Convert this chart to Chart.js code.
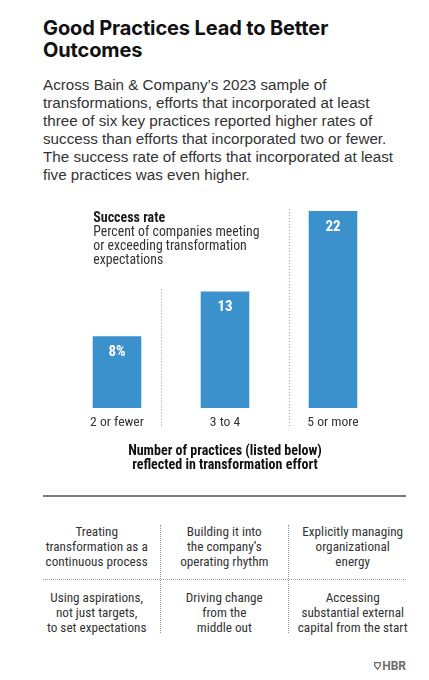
<!DOCTYPE html>
<html>
<head>
<meta charset="utf-8">
<script src="https://cdn.jsdelivr.net/npm/chart.js@4.4.1/dist/chart.umd.min.js"></script>
<style>
  html,body{margin:0;padding:0;background:#fff;}
  body{width:429px;height:680px;position:relative;overflow:hidden;}
  #title{position:absolute;left:43px;top:16.6px;width:380px;font-family:'Inter',sans-serif;font-weight:700;font-size:20px;line-height:22.5px;letter-spacing:-0.13px;color:#111;}
  #body{position:absolute;left:43px;top:76.4px;width:380px;font-family:'Liberation Sans',sans-serif;font-size:15.2px;line-height:18px;color:#333;}
  #chartWrap{position:absolute;left:43px;top:195px;width:363px;height:285px;}
  #rule{position:absolute;left:43px;top:495.3px;width:363px;height:1.5px;background:#7a7a7a;}
  .cell{position:absolute;width:140px;text-align:center;font-family:'Roboto Condensed',sans-serif;font-size:13.2px;line-height:15px;color:#333;}
  .vdot{position:absolute;top:525px;height:108px;width:0;border-left:1px dotted #9a9a9a;}
  .hdot{position:absolute;left:43px;width:363px;top:578.5px;height:0;border-top:1px dotted #9a9a9a;}
  #hbr{position:absolute;right:23px;top:659px;font-family:'Roboto',sans-serif;font-weight:700;font-size:12px;line-height:14px;color:#6d6d6d;display:flex;align-items:center;gap:1.5px;}
</style>
</head>
<body>
<div id="title">Good Practices Lead to Better<br>Outcomes</div>
<div id="body">Across Bain &amp; Company’s 2023 sample of<br>transformations, efforts that incorporated at least<br>three of six key practices reported higher rates of<br>success than efforts that incorporated two or fewer.<br>The success rate of efforts that incorporated at least<br>five practices was even higher.</div>
<div id="chartWrap"><canvas id="c" width="363" height="285" style="width:363px;height:285px"></canvas></div>
<div id="rule"></div>
<div class="vdot" style="left:160.2px"></div>
<div class="vdot" style="left:287.8px"></div>
<div class="hdot"></div>
<div id="cells"></div>
<div id="hbr"><svg width="7" height="8" viewBox="0 0 7 8"><path d="M0.7 0.7 H6.3 V3.6 L3.5 7.2 L0.7 3.6 Z" fill="none" stroke="#6d6d6d" stroke-width="1.3"/></svg><span>HBR</span></div>
<script>
// ---- data ----
const categories = ["2 or fewer", "3 to 4", "5 or more"];
const successRate = [8, 13, 22];
const valueLabels = ["8%", "13", "22"];
const axisTitle = ["Number of practices (listed below)", "reflected in transformation effort"];
const noteTitle = "Success rate";
const noteLines = ["Percent of companies meeting", "or exceeding transformation", "expectations"];
const practicesRow1 = [
  ["Treating", "transformation as a", "continuous process"],
  ["Building it into", "the company’s", "operating rhythm"],
  ["Explicitly managing", "organizational", "energy"]
];
const practicesRow2 = [
  ["Using aspirations,", "not just targets,", "to set expectations"],
  ["Driving change", "from the", "middle out"],
  ["Accessing", "substantial external", "capital from the start"]
];

// ---- practices grid (HTML text) ----
const cellCenters = [96.7, 224.3, 352.7];
const rowTops = [524, 589.5];
const cellsEl = document.getElementById('cells');
[practicesRow1, practicesRow2].forEach((row, r) => {
  row.forEach((lines, i) => {
    const d = document.createElement('div');
    d.className = 'cell';
    d.style.left = (cellCenters[i] - 70) + 'px';
    d.style.top = rowTops[r] + 'px';
    d.innerHTML = lines.join('<br>');
    cellsEl.appendChild(d);
  });
});

// ---- chart ----
const barColor = '#3a91cb';
const condensed = "'Roboto Condensed', 'Liberation Sans Narrow', sans-serif";
const dividerOffsets = [-0.095, 0.095];

const overlay = {
  id: 'overlay',
  beforeDatasetsDraw(chart) {
    const {ctx, chartArea, scales: {x, y}} = chart;
    ctx.save();
    ctx.strokeStyle = '#9a9a9a';
    ctx.lineWidth = 1;
    ctx.setLineDash([1, 2]);
    for (let i = 0; i < categories.length - 1; i++) {
      const px = Math.round(x.getPixelForValue(i + 0.5 + dividerOffsets[i])) + 0.5;
      const top = y.getPixelForValue(successRate[i + 1]) - 2;
      ctx.beginPath();
      ctx.moveTo(px, top);
      ctx.lineTo(px, chartArea.bottom + 19.5);
      ctx.stroke();
    }
    ctx.restore();
  },
  afterDatasetsDraw(chart) {
    const {ctx, chartArea} = chart;
    const meta = chart.getDatasetMeta(0);
    ctx.save();
    ctx.fillStyle = '#ffffff';
    ctx.font = "bold 15px " + condensed;
    ctx.textAlign = 'center';
    ctx.textBaseline = 'middle';
    meta.data.forEach((bar, i) => {
      ctx.fillText(valueLabels[i], bar.x, bar.y + 16);
    });
    // annotation
    const first = meta.data[0];
    const ax = first.x - first.width / 2 + 0.5;
    let ay = chartArea.top + 7;
    ctx.textAlign = 'left';
    ctx.fillStyle = '#1a1a1a';
    ctx.font = "bold 14px " + condensed;
    ctx.fillText(noteTitle, ax, ay);
    ctx.fillStyle = '#333';
    ctx.font = "13.8px " + condensed;
    noteLines.forEach((t, k) => ctx.fillText(t, ax, ay + 14.2 * (k + 1)));
    ctx.restore();
  }
};

new Chart(document.getElementById('c'), {
  type: 'bar',
  data: {
    labels: categories,
    datasets: [{
      data: successRate,
      backgroundColor: barColor,
      borderWidth: 0,
      barPercentage: 0.9,
      categoryPercentage: 0.5
    }]
  },
  options: {
    responsive: false,
    animation: false,
    layout: {padding: {left: 20, right: 19, top: 16, bottom: 7.45}},
    plugins: {legend: {display: false}, tooltip: {enabled: false}, title: {display: false}},
    scales: {
      x: {
        grid: {display: false, drawTicks: false},
        border: {display: false},
        ticks: {padding: 6, color: '#333', font: {family: condensed, size: 13.6, lineHeight: 1.2}, maxRotation: 0, autoSkip: false},
        title: {
          display: true,
          text: axisTitle,
          color: '#111',
          font: {family: condensed, size: 14, weight: 'bold', lineHeight: 0.98},
          padding: {top: 8.85, bottom: 0}
        }
      },
      y: {display: false, min: 0, max: 22}
    }
  },
  plugins: [overlay]
});
</script>
</body>
</html>
